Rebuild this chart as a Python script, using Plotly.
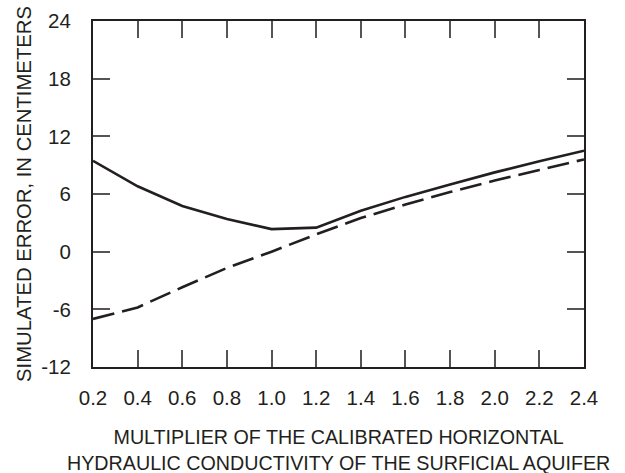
import plotly.graph_objects as go

# Multiplier applied to the calibrated horizontal hydraulic conductivity
multiplier = [0.2, 0.4, 0.6, 0.8, 1.0, 1.2, 1.4, 1.6, 1.8, 2.0, 2.2, 2.4]

# Simulated error (cm): solid and dashed curves
error_solid = [9.45, 6.8, 4.75, 3.4, 2.35, 2.5, 4.25, 5.7, 7.0, 8.25, 9.4, 10.5]
error_dashed = [-7.0, -5.8, -3.7, -1.7, 0.0, 1.8, 3.5, 4.9, 6.2, 7.4, 8.5, 9.6]

x_ticks = [0.2, 0.4, 0.6, 0.8, 1.0, 1.2, 1.4, 1.6, 1.8, 2.0, 2.2, 2.4]
x_tick_text = ["0.2", "0.4", "0.6", "0.8", "1.0", "1.2", "1.4", "1.6", "1.8", "2.0", "2.2", "2.4"]
y_ticks = [-12, -6, 0, 6, 12, 18, 24]
y_tick_text = ["-12", "-6", "0", "6", "12", "18", "24"]

x_title = "MULTIPLIER OF THE CALIBRATED HORIZONTAL<br>HYDRAULIC CONDUCTIVITY OF THE SURFICIAL AQUIFER"
y_title = "SIMULATED ERROR, IN CENTIMETERS"

FONT = "Liberation Sans, Arial, sans-serif"
INK = "#231f20"

fig = go.Figure()
fig.add_trace(go.Scatter(x=multiplier, y=error_solid, mode="lines",
                         line=dict(color=INK, width=2.6), showlegend=False))
fig.add_trace(go.Scatter(x=multiplier, y=error_dashed, mode="lines",
                         line=dict(color=INK, width=2.6, dash="22px,8px"),
                         showlegend=False))

axis_common = dict(
    showgrid=False, zeroline=False, automargin=False,
    showline=True, linecolor=INK, linewidth=2, mirror="allticks",
    ticks="inside", ticklen=17, tickwidth=1.5, tickcolor="#555555",
    tickfont=dict(family=FONT, size=20.5, color=INK),
)

fig.update_xaxes(range=[0.2, 2.4], tickvals=x_ticks, ticktext=x_tick_text,
                 ticklabelstandoff=11, **axis_common)
fig.update_yaxes(range=[-12, 24], tickvals=y_ticks, ticktext=y_tick_text,
                 ticklabelstandoff=16, **axis_common)

# Axis titles placed relative to the plot frame
fig.add_annotation(text=x_title, xref="paper", yref="paper", x=0.5, y=0,
                   xanchor="center", yanchor="middle", yshift=-83,
                   showarrow=False, align="center",
                   font=dict(family=FONT, size=19.7, color=INK))
fig.add_annotation(text=y_title, xref="paper", yref="paper", x=0, y=0.5,
                   xanchor="center", yanchor="middle", xshift=-69,
                   textangle=-90, showarrow=False,
                   font=dict(family=FONT, size=20.3, color=INK))

fig.update_layout(
    width=625, height=473,
    margin=dict(l=93, r=41, t=21, b=106),
    paper_bgcolor="white", plot_bgcolor="white",
)

fig.write_html("out.html")
